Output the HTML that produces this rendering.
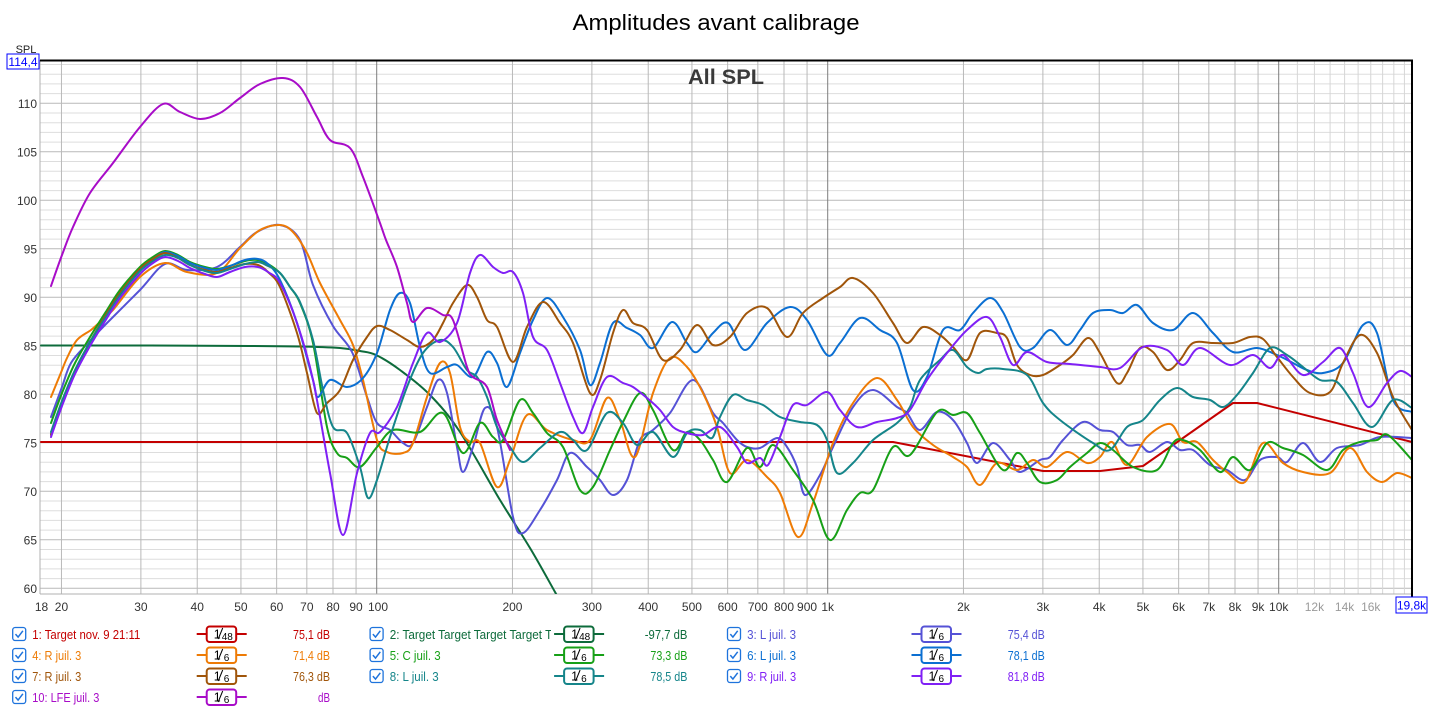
<!DOCTYPE html>
<html><head><meta charset="utf-8"><style>
html,body{margin:0;padding:0;background:#fff;}
svg{display:block;font-family:"Liberation Sans",Arial,sans-serif;}
</style></head><body>
<svg id="c" width="1433" height="709" viewBox="0 0 1433 709" xmlns="http://www.w3.org/2000/svg">
<defs>
<clipPath id="plot"><rect x="40" y="60" width="1373" height="534"/></clipPath>
<clipPath id="lg2"><rect x="380" y="620" width="171" height="30"/></clipPath>
</defs>
<rect width="1433" height="709" fill="#fff"/>
<text x="716" y="30" font-size="22" text-anchor="middle" fill="#000" textLength="287" lengthAdjust="spacingAndGlyphs">Amplitudes avant calibrage</text>
<g id="grid"></g>
<text x="726" y="84" font-size="21" font-weight="bold" text-anchor="middle" fill="#3a3a3a" textLength="76" lengthAdjust="spacingAndGlyphs">All SPL</text>
<g clip-path="url(#plot)" fill="none" stroke-width="2" stroke-linejoin="round" stroke-linecap="round">
<polyline stroke="#c40000" points="41,442 893,442 1043,471 1100,471 1143,466 1233,403 1257,403 1412,442"/>
<polyline class="s" stroke="#0d6b3b" points="41,345.5 150,345.5 250,346 300,346.5 340,348 360,351 376,355 400,370 430,395 460,432 500,500 530,548 555,592 565,610"/>
<polyline class="s" stroke="#5552d6" points="51,417 62,387 71,363 88,343 107,323 140,290 165,264 187,270 217,267 240,247 257,232 280,225 300,240 313,285 333,326 352,352 367,397 377,423 390,430 403,443 413,443 427,407 438,380 447,393 457,447 463,472 473,447 485,408 497,427 513,517 523,533 540,510 557,480 570,453 587,467 600,480 613,495 627,480 640,440 653,430 670,413 693,380 713,413 723,423 737,440 747,447 760,448 777,438 787,447 797,467 805,495 820,475 833,447 853,407 873,390 897,407 907,413 920,430 937,412 953,420 967,443 977,463 993,443 1010,460 1020,472 1040,460 1050,457 1063,440 1083,422 1100,430 1113,432 1127,445 1140,445 1150,452 1167,442 1180,450 1193,450 1210,465 1227,470 1245,480 1260,460 1277,457 1287,462 1303,443 1320,462 1337,448 1360,445 1380,437 1412,438"/>
<polyline class="s" stroke="#ee7b05" points="51,397 60,375 67,358 77,340 91,330 100,322 113,310 140,277 165,263 187,272 217,273 240,248 260,230 280,225 293,232 307,253 320,283 340,320 353,345 363,380 377,440 387,452 403,453 413,443 427,397 440,363 450,373 460,427 470,442 480,443 497,487 510,460 527,415 547,430 573,440 590,440 607,398 620,420 635,457 653,393 670,358 687,367 703,393 717,427 730,473 747,460 767,477 780,493 798,537 813,503 833,443 853,403 877,378 897,400 913,427 933,445 953,457 967,467 980,485 997,463 1017,470 1033,460 1047,467 1067,452 1087,463 1100,457 1112,442 1127,465 1147,437 1170,424 1183,442 1197,442 1213,460 1227,472 1245,482 1263,443 1283,463 1303,472 1330,473 1350,448 1367,472 1382,482 1397,473 1412,478"/>
<polyline class="s" stroke="#17a017" points="51,423 62,393 75,363 90,337 107,310 120,290 140,267 153,257 165,251 178,255 190,262 205,267 217,269 230,266 245,261 258,260 268,264 280,273 290,287 300,303 313,343 327,427 337,453 347,458 360,467 377,447 393,430 420,432 443,413 463,453 480,423 493,437 503,440 520,400 533,413 547,433 563,447 580,490 593,487 610,450 623,422 640,393 653,410 673,450 687,432 700,440 713,460 727,482 747,448 760,467 773,445 793,470 813,500 830,540 847,510 860,493 873,490 893,447 910,455 937,412 953,415 967,413 980,433 1003,470 1017,453 1027,463 1040,482 1057,480 1070,467 1087,453 1100,443 1113,450 1133,467 1157,470 1173,443 1183,440 1200,450 1220,472 1233,457 1250,470 1267,443 1283,448 1303,455 1327,470 1343,450 1360,442 1377,440 1388,435 1412,460"/>
<polyline class="s" stroke="#0b6fd2" points="51,434 62,403 75,371 90,343 107,315 120,294 140,270 153,259 165,252 178,256 190,263 205,268 217,270 230,266 245,260 258,259 268,264 280,280 297,323 313,380 318,397 330,380 347,387 363,378 377,353 390,310 400,293 410,303 420,347 430,373 447,367 457,365 473,377 487,352 497,363 507,387 520,353 533,320 547,298 563,317 580,350 590,385 600,363 613,323 627,328 640,335 653,348 672,322 687,343 697,352 713,333 728,323 745,350 767,323 790,307 807,320 827,355 840,343 860,318 880,330 897,343 913,390 927,377 943,330 960,330 973,313 990,298 1003,312 1020,347 1033,348 1050,330 1067,345 1080,330 1093,313 1110,310 1123,313 1137,305 1153,323 1173,330 1193,313 1213,333 1233,352 1257,348 1277,355 1293,363 1307,370 1323,373 1343,363 1363,325 1377,333 1393,400 1412,412"/>
<polyline class="s" stroke="#a0550a" points="51,435 62,403 75,371 90,342 107,313 120,293 140,269 153,259 165,253 178,258 190,265 205,270 217,272 230,268 245,264 258,265 268,272 280,287 297,333 307,373 317,413 327,403 340,390 353,360 367,337 377,326 390,330 407,340 420,347 433,340 443,323 453,303 467,285 477,297 487,320 497,327 513,362 527,327 543,302 560,323 573,343 590,393 600,380 613,333 623,310 633,323 647,330 663,360 680,350 697,325 713,345 730,337 747,313 767,308 787,337 803,313 823,298 840,287 853,278 873,293 893,323 907,343 923,327 940,335 953,347 967,360 980,333 997,333 1007,338 1017,365 1030,375 1043,375 1060,365 1073,355 1088,338 1100,353 1117,383 1127,373 1140,348 1153,352 1167,370 1180,360 1193,343 1213,343 1233,343 1250,337 1263,339 1277,357 1293,377 1310,393 1330,392 1343,363 1360,335 1377,353 1393,397 1412,430"/>
<polyline class="s" stroke="#15858a" points="51,432 62,401 75,370 90,342 107,315 120,295 140,271 153,261 165,255 178,258 190,265 205,271 217,273 230,269 245,264 258,262 268,266 280,273 290,287 300,302 313,340 323,390 333,427 347,433 360,467 368,498 377,480 390,437 407,387 423,353 440,340 453,347 467,370 477,377 487,397 497,427 510,447 523,462 540,448 560,432 573,440 587,450 607,413 623,423 637,445 653,432 673,457 687,433 700,430 712,438 720,417 733,395 747,400 763,405 780,417 800,422 817,425 827,440 837,473 853,463 873,440 897,423 910,407 920,380 940,360 953,350 967,367 978,373 987,369 1003,369 1027,375 1043,403 1060,420 1093,443 1110,450 1127,427 1143,420 1160,400 1177,388 1193,397 1210,400 1223,407 1237,395 1253,373 1270,348 1287,355 1303,367 1320,380 1337,382 1353,403 1372,427 1393,400 1412,408"/>
<polyline class="s" stroke="#8020f5" points="51,437 62,406 75,374 90,346 107,318 120,298 140,274 153,263 165,257 178,261 190,268 205,274 217,277 230,272 245,267 258,267 268,272 280,283 297,323 313,380 330,473 343,535 357,473 370,433 380,432 397,407 413,363 427,333 440,342 457,323 470,273 480,255 493,267 503,273 513,272 523,293 533,337 547,350 560,383 573,417 583,433 593,407 607,377 623,383 633,387 647,398 660,410 673,427 687,433 703,435 720,427 737,447 747,463 760,458 768,465 780,437 793,405 807,405 827,392 840,410 857,427 877,422 897,418 910,410 927,380 947,353 967,330 987,317 1000,337 1013,365 1027,352 1047,362 1070,364 1100,367 1120,368 1143,347 1167,350 1183,365 1200,348 1230,365 1253,355 1270,368 1283,355 1303,375 1323,362 1340,348 1353,373 1368,407 1387,383 1400,371 1412,377"/>
<polyline class="s" stroke="#a80cc8" points="51,286 62,255 73,227 90,193 113,163 140,127 163,104 180,112 200,119 220,113 240,98 260,84 283,78 300,87 317,117 330,140 350,148 363,177 380,223 386,240 397,267 407,303 413,322 427,308 443,315 453,320 467,367 473,377 487,387 497,420 510,450"/>
</g>
<g id="frame"></g>
<g id="legend"></g>
</svg>
<script>
(function(){
var NS="http://www.w3.org/2000/svg";
function el(tag,attrs,parent,txt){var e=document.createElementNS(NS,tag);for(var k in attrs)e.setAttribute(k,attrs[k]);if(txt!==undefined)e.textContent=txt;parent.appendChild(e);return e;}
var grid=document.getElementById('grid');
function X(f){return 376.7+451*Math.log10(f/100);}
function Y(d){return 103.3+(110-d)*9.7;}
for(var d=60;d<=114;d++){var y=Y(d);var major=(d%5===0);
 el('line',{x1:40,x2:1412,y1:y,y2:y,stroke:major?'#b9b9b9':'#dddddd','stroke-width':1},grid);}
var fs=[];for(var f=20;f<100;f+=10)fs.push(f);for(f=100;f<1000;f+=100)fs.push(f);for(f=1000;f<10000;f+=1000)fs.push(f);for(f=10000;f<20000;f+=1000)fs.push(f);
fs.forEach(function(f){var x=X(f);var c='#b9b9b9';if(f===100||f===1000||f===10000)c='#7e7e7e';else if(f>10000)c='#d6d6d6';
 el('line',{x1:x,x2:x,y1:60,y2:594,stroke:c,'stroke-width':1},grid);});
var fr=document.getElementById('frame');
el('line',{x1:40,x2:40,y1:60,y2:594,stroke:'#b0b0b0','stroke-width':1},grid);
el('line',{x1:40,x2:1413,y1:594,y2:594,stroke:'#b0b0b0','stroke-width':1},grid);
el('line',{x1:40,x2:1413,y1:60.5,y2:60.5,stroke:'#000','stroke-width':2},fr);
el('line',{x1:1412,x2:1412,y1:60,y2:597,stroke:'#000','stroke-width':2},fr);
for(d=60;d<=110;d+=5){el('text',{x:37,y:Y(d)+4.5,'font-size':12,'text-anchor':'end',fill:'#333'},fr,String(d));}
el('text',{x:26,y:53,'font-size':11,'text-anchor':'middle',fill:'#222'},fr,'SPL');
el('rect',{x:7,y:54,width:32,height:15,fill:'#fff',stroke:'#0000ff','stroke-width':1},fr);
el('text',{x:23,y:66,'font-size':12,'text-anchor':'middle',fill:'#0000ff'},fr,'114,4');
var lab=[[18,'18'],[20,'20'],[30,'30'],[40,'40'],[50,'50'],[60,'60'],[70,'70'],[80,'80'],[90,'90'],[100,'100'],[200,'200'],[300,'300'],[400,'400'],[500,'500'],[600,'600'],[700,'700'],[800,'800'],[900,'900'],[1000,'1k'],[2000,'2k'],[3000,'3k'],[4000,'4k'],[5000,'5k'],[6000,'6k'],[7000,'7k'],[8000,'8k'],[9000,'9k'],[10000,'10k'],[12000,'12k'],[14000,'14k'],[16000,'16k']];
lab.forEach(function(l){var x=X(l[0]);if(l[0]===18)x=41.5;if(l[0]===100)x=378;
 el('text',{x:x,y:611,'font-size':12,'text-anchor':'middle',fill:l[0]>10000?'#9a9a9a':'#333'},fr,l[1]);});
el('rect',{x:1396,y:597,width:31,height:16,fill:'#fff',stroke:'#0000ff','stroke-width':1},fr);
el('text',{x:1411.5,y:609.5,'font-size':12,'text-anchor':'middle',fill:'#0000ff'},fr,'19,8k');
var pls=document.querySelectorAll('polyline.s');
for(var i=0;i<pls.length;i++){var pl=pls[i];var pts=pl.getAttribute('points').trim().split(/\s+/).map(function(s){var a=s.split(',');return [parseFloat(a[0]),parseFloat(a[1])];});
 var dstr='M'+pts[0][0]+','+pts[0][1];
 for(var j=0;j<pts.length-1;j++){var p0=pts[j-1]||pts[j],p1=pts[j],p2=pts[j+1],p3=pts[j+2]||pts[j+1];
  var c1x=p1[0]+(p2[0]-p0[0])/6,c1y=p1[1]+(p2[1]-p0[1])/6,c2x=p2[0]-(p3[0]-p1[0])/6,c2y=p2[1]-(p3[1]-p1[1])/6;
  dstr+=' C'+c1x.toFixed(1)+','+c1y.toFixed(1)+' '+c2x.toFixed(1)+','+c2y.toFixed(1)+' '+p2[0]+','+p2[1];}
 var p=document.createElementNS(NS,'path');p.setAttribute('d',dstr);p.setAttribute('stroke',pl.getAttribute('stroke'));
 pl.parentNode.replaceChild(p,pl);}
var lg=document.getElementById('legend');
var rows=[634,655,676,697];
var items=[
 [0,0,'1: Target nov. 9 21:11','#c40000','48','75,1 dB',108,37],
 [0,1,'2: Target Target Target Target Target','#0d6b3b','48','-97,7 dB',0,42.6],
 [0,2,'3: L juil. 3','#5552d6','6','75,4 dB',49,37],
 [1,0,'4: R juil. 3','#ee7b05','6','71,4 dB',49,37],
 [1,1,'5: C juil. 3','#17a017','6','73,3 dB',51,37],
 [1,2,'6: L juil. 3','#0b6fd2','6','78,1 dB',49,37],
 [2,0,'7: R juil. 3','#a0550a','6','76,3 dB',49,37],
 [2,1,'8: L juil. 3','#15858a','6','78,5 dB',49,37],
 [2,2,'9: R juil. 3','#8020f5','6','81,8 dB',49,37],
 [3,0,'10: LFE juil. 3','#a80cc8','6','dB',67,12]];
items.forEach(function(it){var r=rows[it[0]],off=it[1]*357.4,col=it[3];
 var bx=12.7+off,by=r-6.5;
 el('rect',{x:bx,y:by,width:13,height:13,rx:2.5,fill:'#fff',stroke:'#1e73dc','stroke-width':1.3},lg);
 el('path',{d:'M'+(bx+2.8)+','+(by+6.6)+' L'+(bx+5.4)+','+(by+9.6)+' L'+(bx+10.2)+','+(by+3.3),fill:'none',stroke:'#1e73dc','stroke-width':1.5},lg);
 var ta={x:32.3+off,y:r+5,'font-size':13,fill:col};
 if(it[6]>0){ta.textLength=it[6];ta.lengthAdjust='spacingAndGlyphs';}
 var t=el('text',ta,lg,it[2]);
 if(it[6]===0){t.setAttribute('clip-path','url(#lg2)');t.setAttribute('textLength','188');t.setAttribute('lengthAdjust','spacingAndGlyphs');}
 el('line',{x1:196.7+off,x2:246.7+off,y1:r,y2:r,stroke:col,'stroke-width':2},lg);
 var rx=206.7+off;
 el('rect',{x:rx,y:r-7.5,width:29.5,height:15.5,rx:3,fill:'#fff',stroke:col,'stroke-width':2},lg);
 el('text',{x:rx+7,y:r+4.5,'font-size':12.5,fill:'#000'},lg,'1');
 el('line',{x1:rx+11.5,y1:r+5,x2:rx+16,y2:r-6,stroke:'#000','stroke-width':1},lg);
 if(it[4]==='48'){el('text',{x:rx+15,y:r+6,'font-size':10,fill:'#000'},lg,'48');}
 else{el('text',{x:rx+17,y:r+6,'font-size':10,fill:'#000'},lg,'6');}
 el('text',{x:330+off,y:r+5,'font-size':13,'text-anchor':'end',fill:col,textLength:it[7],lengthAdjust:'spacingAndGlyphs'},lg,it[5]);
});
})();
</script>
</body></html>
